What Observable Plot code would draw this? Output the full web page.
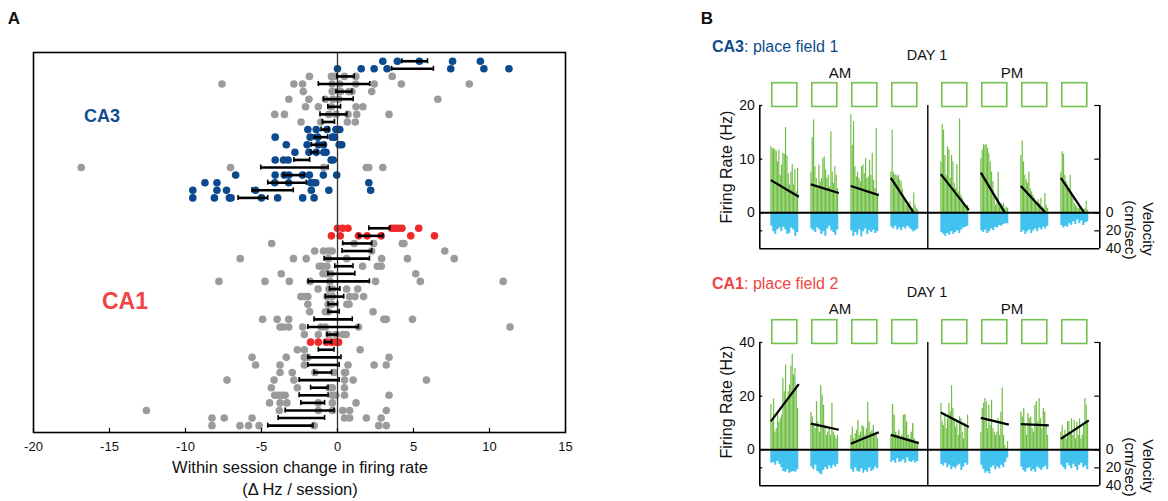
<!DOCTYPE html>
<html><head><meta charset="utf-8">
<script src="https://cdn.jsdelivr.net/npm/d3@7"></script>
<script src="https://cdn.jsdelivr.net/npm/@observablehq/plot@0.6"></script>
<style>
body{margin:0;background:#fff;font-family:"Liberation Sans",Arial,sans-serif;}
#fig{position:relative;width:1168px;height:501px;overflow:hidden;background:#fff;}
.lbl{position:absolute;white-space:nowrap;line-height:1;color:#111;}
.c{transform:translate(-50%,-50%);}
.plot{position:absolute;}
</style></head><body><div id="fig">
<div class="lbl c" style="left:14px;top:18px;font-size:17px;font-weight:bold">A</div>
<div class="lbl c" style="left:707px;top:18px;font-size:17px;font-weight:bold">B</div>
<div class="lbl" style="left:84px;top:107px;font-size:18px;font-weight:bold;color:#0f4c8c">CA3</div>
<div class="lbl" style="left:102px;top:290px;font-size:23px;font-weight:bold;color:#f04545">CA1</div>
<div class="lbl c" style="left:300px;top:467px;font-size:16.5px">Within session change in firing rate</div>
<div class="lbl c" style="left:300px;top:489px;font-size:16.5px">(Δ Hz / session)</div>

<div class="lbl" style="left:712px;top:39px;font-size:16px;color:#0f4c8c"><b>CA3</b>: place field 1</div>
<div class="lbl c" style="left:927px;top:55px;font-size:14.5px">DAY 1</div>
<div class="lbl c" style="left:840px;top:72px;font-size:15px">AM</div>
<div class="lbl c" style="left:1012px;top:72px;font-size:15px">PM</div>
<div class="lbl c" style="left:727px;top:167px;font-size:16px;transform:translate(-50%,-50%) rotate(-90deg)">Firing Rate (Hz)</div>
<div class="lbl c" style="left:1148px;top:229px;font-size:15.5px;transform:translate(-50%,-50%) rotate(90deg)">Velocity</div>
<div class="lbl c" style="left:1130px;top:230px;font-size:15.5px;transform:translate(-50%,-50%) rotate(90deg)">(cm/sec)</div>

<div class="lbl" style="left:712px;top:276px;font-size:16px;color:#f04545"><b>CA1</b>: place field 2</div>
<div class="lbl c" style="left:927px;top:292px;font-size:14.5px">DAY 1</div>
<div class="lbl c" style="left:840px;top:308px;font-size:15px">AM</div>
<div class="lbl c" style="left:1012px;top:308px;font-size:15px">PM</div>
<div class="lbl c" style="left:727px;top:402px;font-size:16px;transform:translate(-50%,-50%) rotate(-90deg)">Firing Rate (Hz)</div>
<div class="lbl c" style="left:1148px;top:466px;font-size:15.5px;transform:translate(-50%,-50%) rotate(90deg)">Velocity</div>
<div class="lbl c" style="left:1130px;top:467px;font-size:15.5px;transform:translate(-50%,-50%) rotate(90deg)">(cm/sec)</div>
</div>
<script>
// ---------------- Panel A data ----------------
const xTicks = [-20, -15, -10, -5, 0, 5, 10, 15];
const ca3Dots = [
 [2.98, 3.94, 5.39, 7.57, 9.40],
 [0.0, 1.56, 2.41, 3.26, 7.45, 9.63, 11.28],
 [-1.85, -0.4, -0.15, 0.45, 1.2, 3.6],
 [-7.6, -2.87, -2.3, -0.35, 0.15, 1.2, 2.42, 4.2, 8.67],
 [-2.25, -0.35, 0.2, 0.75, 0.95, 2.25],
 [-3.2, -1.88, -0.8, -0.3, 0.1, 6.6],
 [-2.1, -1.26, -0.4, 1.22, 1.67],
 [-4.13, -3.49, -0.57, -0.1, 0.69, 1.26, 3.39],
 [-2.4, -1.1, 0.65, 1.17],
 [-1.95, -1.4, -0.69, -0.1, 0.15],
 [-4.1, -1.8, -1.3, -0.35, -0.2],
 [-3.37, -2.0, -1.26, -0.92, 0.11, 0.28],
 [-2.8, -1.88, -1.4, -0.9, -0.75],
 [-4.1, -3.55, -3.25, -0.42, -0.28],
 [-16.86, -7.04, -0.9, 1.9, 2.06, 2.98],
 [-6.7, -4.1, -3.5, -3.2, -2.3, -1.85, -0.93, -0.05],
 [-8.72, -7.93, -4.13, -3.21, -1.77, -1.6, -1.43, 2.06],
 [-9.52, -7.93, -7.3, -5.39, -1.72, -0.57, 2.18],
 [-9.52, -8.1, -7.11, -7.0, -5.0, -3.94, -2.29, -1.54]
];
const ca3Sig = [1,1,0,0,0,0,0,0,0,1,1,1,1,1,0,1,1,1,1];
const ca3Lo = [4.24, 3.56, -0.05, -1.26, -0.1, -0.92, -0.64, -1.15, -1.0, -1.08, -1.54, -1.72, -1.77, -2.87, -5.05, -3.56, -4.59, -5.62, -6.54];
const ca3Hi = [5.92, 6.31, 1.1, 2.12, 0.95, 1.03, 0.2, 0.62, -0.2, -0.57, -0.65, -0.8, -1.31, -1.83, -0.62, -2.18, -2.06, -2.91, -4.59];

const ca1Dots = [
 [0.0, 0.34, 0.69, 3.56, 3.78, 4.01, 4.24, 5.34],
 [-0.4, 0.18, 1.38, 1.95, 2.87, 4.82, 6.38],
 [-4.33, 1.1, 2.38, 4.26, 4.37],
 [-1.5, -0.92, -0.6, -0.35, 2.25, 7.06],
 [-6.4, -2.9, -2.06, -0.6, 0.6, 2.9, 4.6, 7.68],
 [-1.2, -1.0, -0.7, 1.65, 2.62, 2.88],
 [-3.7, -0.95, -0.75, -0.45, 5.15],
 [-7.8, -4.77, -3.17, -1.8, -0.5, 2.5, 5.45, 10.9],
 [-1.28, -0.56, -0.34, 0.6, 1.33],
 [-2.41, -2.18, -1.95, -0.69, -0.34, 0.8, 1.15, 1.72],
 [-1.95, -0.62, -0.39, 0.62, 0.76],
 [-1.83, -0.8, -0.6, 2.34],
 [-4.93, -3.97, -3.21, 3.05, 3.21, 4.93],
 [-3.78, -3.56, -3.21, -2.29, -1.08, -0.8, 1.38, 11.35],
 [-2.18, -1.26, -0.57, -0.11, 0.34, 0.57],
 [-1.77, -1.26, -0.73, -0.39, -0.11, 0.07],
 [-2.64, -2.18, 1.49],
 [-5.62, -3.37, -2.18, -1.95, 3.39],
 [-5.39, -3.78, -2.18, 0.69, 2.41, 3.21],
 [-3.78, -2.98, -1.49, -0.23, 0.46, 0.53],
 [-7.27, -4.17, -2.87, 0.46, 1.03, 5.85],
 [-4.36, -2.64, -0.57, -0.34, 0.46],
 [-4.13, -3.9, -3.67, -3.44, -0.34, -0.11, 0.46, 3.39],
 [-4.47, -3.78, -3.33, -1.26, -0.34, 1.22],
 [-12.57, -3.83, -1.26, -0.34, 0.34, 0.8, 3.21],
 [-8.26, -7.45, -5.62, 0.46, 0.8, 1.9, 2.87],
 [-8.26, -6.42, -5.85, -5.16, -1.54, 2.71, 3.21]
];
const ca1Sig = [1,1,0,0,0,0,0,0,0,0,0,0,0,0,0,1,0,0,0,0,0,0,0,0,0,0,0];
const ca1Lo = [2.06, 1.38, 0.34, 0.3, -0.88, -0.18, -0.63, -1.93, -0.53, -0.8, -0.62, -0.62, -1.54, -1.95, -0.69, -0.85, -1.26, -1.95, -1.95, -1.54, -2.52, -1.77, -2.52, -2.41, -3.44, -3.9, -4.59];
const ca1Hi = [3.44, 2.98, 2.25, 2.25, 2.1, 1.02, 1.14, 2.1, 0.16, 0.41, 0.0, 0.11, 0.97, 1.38, 0.0, -0.39, -0.23, 0.23, 0.11, -0.39, 0.11, -0.62, -0.62, -0.85, -0.23, -0.85, -1.61];
const ca1FirstRow = 22;

// ---------------- Panel B data ----------------
const sessionStart = [0.55, 2.55, 4.55, 6.55, 9.05, 11.05, 13.05, 15.05];
const sessionLength = 1.4;
const amPmBreak = 8.4;
const timeEnd = 17;

const ca3Rate = [
 [12.3,11.9,12.0,11.7,11.5,9.5,11.7,7.0,8.9,11.1,10.9,15.9,10.6,7.3,5.2,7.6,9.0,5.2,8.1,3.9,8.3],
 [7.6,14.0,17.3,8.6,6.4,4.5,8.9,5.8,6.4,10.1,10.4,8.0,6.4,7.0,4.8,15.1,7.6,5.5,8.6,7.0,4.5],
 [18.3,12.6,17.0,8.6,6.7,7.6,6.4,5.8,8.6,8.9,7.3,10.1,6.4,6.7,9.8,7.0,11.1,6.1,4.5,15.7,3.3],
 [7.6,15.4,7.5,7.0,7.1,6.7,7.0,6.1,5.8,4.5,3.3,2.7,1.4,2.0,1.1,2.0,0.9,0.8,3.7,1.4,0.8,0.5],
 [9.5,16.5,15.4,10.7,7.0,12.3,11.7,6.4,10.7,9.5,5.5,4.5,9.0,3.9,17.5,3.3,2.7,2.0,1.4,1.1,1.4],
 [10.1,11.7,12.7,12.6,12.7,12.0,11.1,9.5,7.6,5.8,3.3,1.4,2.0,7.6,1.1,1.7,1.4,1.7,0.8,1.1,0.8],
 [10.7,13.4,9.5,7.0,6.1,5.5,7.6,4.5,3.9,3.3,2.7,2.0,1.4,2.4,1.7,2.7,1.1,0.9,3.6,1.4,0.8],
 [7.6,11.4,10.9,7.0,5.8,5.2,4.5,7.0,3.9,2.7,1.7,1.4,1.1,0.8,1.1,0.7,0.5,0.6,0.8,2.2,0.5]
];
const ca3Vel = [
 [15,21,24,19,17,21,16,19,24,23,17,19,26,22],
 [18,20,22,17,19,24,21,26,18,15,20,22,25,19],
 [20,26,22,25,19,27,21,18,24,20,22,19,23,21],
 [16,18,15,19,17,20,16,18,15,17,19,21,20,18],
 [22,24,26,23,25,21,24,22,20,23,19,17,16,15],
 [20,22,19,23,21,18,20,16,17,14,15,13,12,12],
 [22,20,24,21,19,23,20,18,21,17,19,16,18,15],
 [14,17,15,16,12,14,10,13,8,12,9,14,11,10]
];
const ca3FitStart = [6.1, 5.3, 5.0, 6.5, 7.2, 7.5, 5.0, 6.5];
const ca3FitEnd = [3.0, 3.7, 3.3, -1.43, 0.5, -1.22, -0.68, -1.24];

const ca1Rate = [
 [16.9,10.4,18.9,6.6,7.9,14.1,10.4,11.6,12.9,26.6,21.6,31.6,17.9,21.6,24.1,31.0,35.6,27.9,30.4,24.1,15.4],
 [13.9,12.3,9.8,7.9,17.9,10.4,6.6,23.9,20.4,16.6,9.1,5.4,6.6,7.9,5.4,17.3,6.6,5.4,4.1,5.4],
 [5.4,8.5,4.1,6.0,7.3,11.0,5.4,6.6,9.1,8.5,5.4,7.9,17.6,10.4,6.6,7.3,9.1,5.4,6.6,4.1],
 [5.4,16.9,12.9,6.6,5.4,7.3,4.1,5.4,12.9,13.1,10.4,5.4,4.1,6.6,9.8,4.1,2.9,3.1],
 [17.3,10.4,9.1,12.9,7.9,11.6,17.3,14.1,23.9,15.4,11.6,8.5,10.4,5.4,12.3,11.6,6.6,4.1,9.8,7.9,12.9],
 [6.6,15.4,17.3,19.1,17.9,7.9,16.6,9.1,18.5,7.9,6.6,5.4,6.6,11.6,5.4,14.1,23.1,5.4,1.6,0.4,3.1],
 [14.1,12.3,15.4,9.1,5.4,13.5,11.6,12.3,7.9,6.6,16.6,17.9,10.4,19.1,11.6,7.9,15.4,14.1,9.1,5.4],
 [6.6,9.1,5.4,7.3,4.1,10.4,10.6,6.6,11.6,5.4,11.0,4.1,10.4,5.4,11.6,4.1,5.4,9.1,19.1,16.6,10.4]
];
const ca1Vel = [
 [15,14,17,13,16,20,24,25,22,26,25,24,25,22],
 [19,22,17,24,26,28,23,20,22,18,21,17,19,16],
 [22,25,20,24,25,21,26,23,25,20,24,22,19,21],
 [14,12,15,10,14,13,11,15,9,13,14,12,15,13],
 [16,18,15,20,17,22,19,21,18,16,23,19,15,17],
 [17,22,26,24,27,20,18,22,19,21,17,20,14,9],
 [19,23,25,21,20,24,22,25,19,21,23,20,18,22],
 [17,20,22,15,18,21,16,19,23,17,15,20,18,22]
];
const ca1FitStart = [10.6, 9.8, 2.3, 5.6, 13.9, 11.9, 9.6, 4.1];
const ca1FitEnd = [24.5, 7.5, 6.6, 2.5, 8.5, 9.4, 9.1, 11.0];

// ---------------- styles ----------------
const FONT = '"Liberation Sans", Arial, sans-serif';
const BLUE = "#0b4a8e", GREY = "#9b9b9b", RED = "#f02a2a";
const GREEN = "#6fbe44", SKY = "#42c3ef";

// ---------------- Panel A ----------------
const dotRows = [];
ca3Dots.forEach((vals, i) => vals.forEach(v => dotRows.push({v, row: i, sig: ca3Sig[i] ? "ca3" : "ns"})));
ca1Dots.forEach((vals, i) => vals.forEach(v => dotRows.push({v, row: i + ca1FirstRow, sig: ca1Sig[i] ? "ca1" : "ns"})));
const barRows = [
  ...ca3Lo.map((lo, i) => ({row: i, lo, hi: ca3Hi[i]})),
  ...ca1Lo.map((lo, i) => ({row: i + ca1FirstRow, lo, hi: ca1Hi[i]}))
];
const barEnds = barRows.flatMap(d => [{row: d.row, v: d.lo}, {row: d.row, v: d.hi}]);
const yLo = 48.9, yHi = -1.15;

const plotA = Plot.plot({
  width: 600, height: 501,
  marginLeft: 33, marginRight: 35, marginTop: 52, marginBottom: 69,
  x: {domain: [-20, 15]},
  y: {domain: [yLo, yHi], axis: null},
  style: {fontFamily: FONT, fontSize: "13px", color: "#111", background: "transparent", overflow: "visible"},
  marks: [
    Plot.dot(dotRows.filter(d => d.sig === "ns"), {x: "v", y: "row", r: 3.8, fill: GREY, stroke: "none"}),
    Plot.dot(dotRows.filter(d => d.sig === "ca3"), {x: "v", y: "row", r: 3.8, fill: BLUE, stroke: "none"}),
    Plot.dot(dotRows.filter(d => d.sig === "ca1"), {x: "v", y: "row", r: 3.8, fill: RED, stroke: "none"}),
    Plot.ruleX([0], {y1: yLo, y2: yHi, stroke: "#333", strokeWidth: 1.3}),
    Plot.ruleY(barRows, {y: "row", x1: "lo", x2: "hi", stroke: "#000", strokeWidth: 2.6}),
    Plot.ruleX(barEnds, {x: "v", y1: d => d.row - 0.33, y2: d => d.row + 0.33, stroke: "#000", strokeWidth: 1.6}),
    Plot.ruleX(xTicks, {y1: yLo, y2: yLo - 0.55, stroke: "#000", strokeWidth: 1.2}),
    Plot.frame({stroke: "#000", strokeWidth: 1.6}),
    Plot.axisX({ticks: xTicks, tickSize: 0, tickPadding: 9, label: null, fontSize: 13, tickFormat: d => String(d)})
  ]
});
plotA.classList.add("plot");
plotA.style.left = "0px"; plotA.style.top = "0px";
document.getElementById("fig").appendChild(plotA);

// ---------------- Panel B ----------------
function makeB({rate, vel, fit0, fit1, rateMax, rateTicks, yTop, velK}) {
  const yBottom = -40 * velK;
  const bars = [], vsteps = [];
  rate.forEach((vals, s) => {
    const w = sessionLength / vals.length;
    vals.forEach((v, j) => bars.push({x1: sessionStart[s] + j * w, x2: sessionStart[s] + (j + 1) * w, y: v}));
  });
  vel.forEach((vals, s) => {
    const w = sessionLength / vals.length;
    vals.forEach((v, j) => vsteps.push({s, x: sessionStart[s] + j * w, y: -v * velK}));
    vsteps.push({s, x: sessionStart[s] + sessionLength, y: -vals[vals.length - 1] * velK});
  });
  const fits = sessionStart.map((s, i) => {
    let y0 = fit0[i], y1 = fit1[i], t = 1;
    if (y1 < 0) { t = y0 / (y0 - y1); y1 = 0; }
    return {x1: s, y1: y0, x2: s + t * sessionLength, y2: y1};
  });
  const velTicks = [0, -20 * velK, -40 * velK];
  return Plot.plot({
    width: 468, height: 185,
    marginLeft: 59.3, marginRight: 68.7, marginTop: 6.7, marginBottom: 11.7,
    x: {domain: [0, timeEnd], axis: null},
    y: {domain: [yBottom, yTop], axis: null},
    style: {fontFamily: FONT, fontSize: "14px", color: "#111", background: "transparent", overflow: "visible"},
    marks: [
      Plot.rect(sessionStart, {x1: d => d, x2: d => d + sessionLength, y1: rateMax, y2: yTop,
        fill: "none", stroke: "#74c24f", strokeWidth: 1.6, insetLeft: 1.5, insetRight: 1.5, insetTop: 1, insetBottom: -1.5}),
      Plot.rect(bars, {x1: "x1", x2: "x2", y1: 0, y2: "y", fill: GREEN, insetRight: 0.15}),
      Plot.areaY(vsteps, {x: "x", y1: 0, y2: "y", z: "s", curve: "step-after", fill: SKY}),
      Plot.ruleY([0], {x1: 0, x2: timeEnd, stroke: "#000", strokeWidth: 2}),
      Plot.ruleY([yBottom], {x1: 0, x2: timeEnd, stroke: "#000", strokeWidth: 1.6}),
      Plot.ruleX([0, timeEnd], {y1: yBottom, y2: rateMax, stroke: "#000", strokeWidth: 1.6}),
      Plot.ruleX([amPmBreak], {y1: yBottom, y2: rateMax, stroke: "#000", strokeWidth: 1.4}),
      Plot.ruleY([...rateTicks, -20 * velK], {x1: 0, x2: 0.15, stroke: "#000", strokeWidth: 1.2}),
      Plot.ruleY([...rateTicks, -20 * velK], {x1: timeEnd - 0.25, x2: timeEnd, stroke: "#000", strokeWidth: 1.2}),
      Plot.link(fits, {x1: "x1", y1: "y1", x2: "x2", y2: "y2", stroke: "#000", strokeWidth: 2.2}),
      Plot.axisY({anchor: "left", ticks: rateTicks, tickSize: 0, tickPadding: 5, label: null, fontSize: 14}),
      Plot.axisY({anchor: "right", ticks: velTicks, tickSize: 0, tickPadding: 6, label: null, fontSize: 14,
        tickFormat: d => String(Math.round(Math.abs(d) / velK))})
    ]
  });
}

const plotB1 = makeB({rate: ca3Rate, vel: ca3Vel, fit0: ca3FitStart, fit1: ca3FitEnd,
  rateMax: 20, rateTicks: [0, 10, 20], yTop: 24.34, velK: 3.35 / 20});
plotB1.classList.add("plot");
plotB1.style.left = "700px"; plotB1.style.top = "75px";
document.getElementById("fig").appendChild(plotB1);

const plotB2 = makeB({rate: ca1Rate, vel: ca1Vel, fit0: ca1FitStart, fit1: ca1FitEnd,
  rateMax: 40, rateTicks: [0, 20, 40], yTop: 48.66, velK: 6.69 / 20});
plotB2.classList.add("plot");
plotB2.style.left = "700px"; plotB2.style.top = "311.7px";
document.getElementById("fig").appendChild(plotB2);
</script>
</body></html>
